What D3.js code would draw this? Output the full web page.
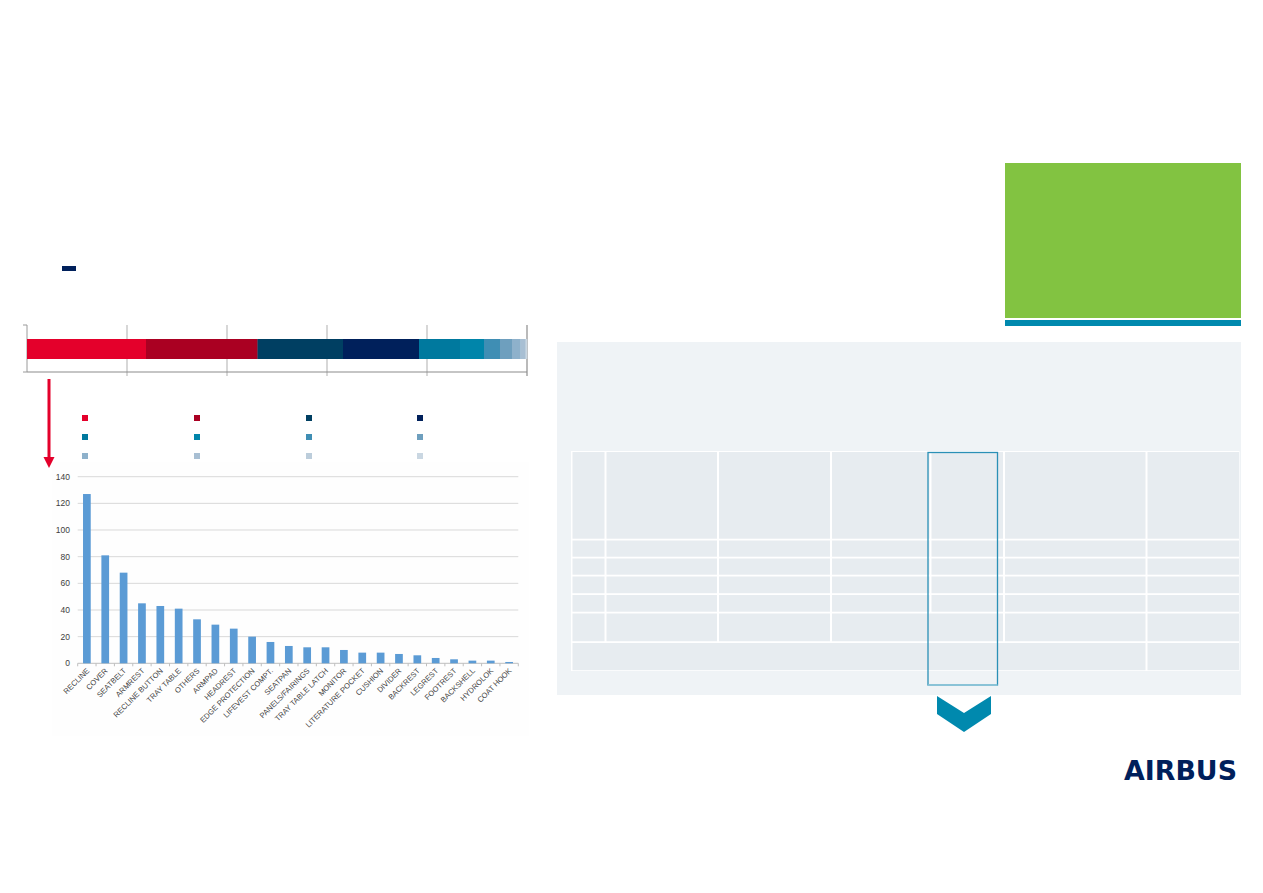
<!DOCTYPE html>
<html><head><meta charset="utf-8">
<script src="https://cdn.jsdelivr.net/npm/d3@7"></script>
<style>body{margin:0;background:#fff;overflow:hidden;} svg{display:block;}</style>
</head><body>
<script>
// ---------- data ----------
const categories = ["RECLINE","COVER","SEATBELT","ARMREST","RECLINE BUTTON","TRAY TABLE","OTHERS","ARMPAD","HEADREST","EDGE PROTECTION","LIFEVEST COMPT.","SEATPAN","PANELS/FAIRINGS","TRAY TABLE LATCH","MONITOR","LITERATURE POCKET","CUSHION","DIVIDER","BACKREST","LEGREST","FOOTREST","BACKSHELL","HYDROLOK","COAT HOOK"];
const counts = [127,81,68,45,43,41,33,29,26,20,16,13,12,12,10,8,8,7,6,4,3,2,2,1];
const countTicks = [0,20,40,60,80,100,120,140];

const shareValues = [23.8,22.3,17.1,15.2,8.2,4.8,3.2,2.4,1.7,0.9,0.2,0.2];
const shareColors = ["#E4002B","#AA0022","#003F62","#00205B","#00799E","#0085AA","#3F8EB4","#6E9FBE","#8EB1CB","#A8BFD3","#BCCDDB","#CAD7E2"];
const shareTicks = [0,20,40,60,80,100];

// table structure (row groups of column spans)
const tableCols = [0,1,2,3,4,5,6,7];
const tableRows = [0,1,2,3,4,5,6,7];
const tableSpans = [
  [[0,1],[1,2],[2,3],[3,4],[4,5],[5,6],[6,7]],
  [[0,1],[1,2],[2,3],[3,4],[4,5],[5,6],[6,7]],
  [[0,1],[1,2],[2,3],[3,4],[4,5],[5,6],[6,7]],
  [[0,1],[1,2],[2,3],[3,4],[4,5],[5,6],[6,7]],
  [[0,1],[1,2],[2,3],[3,4],[4,5],[5,6],[6,7]],
  [[0,1],[1,2],[2,3],[3,5],[5,6],[6,7]],
  [[0,6],[6,7]]
];

// ---------- layout ----------
const W = 1263, H = 893;
const svg = d3.select("body").append("svg").attr("width", W).attr("height", H);
const FONT = "'Liberation Sans', Arial, sans-serif";

// navy small mark
svg.append("rect").attr("x",62).attr("y",266).attr("width",14).attr("height",5).attr("fill","#00205B");

// ---------- stacked share bar ----------
const xs = d3.scaleLinear().domain([0,100]).range([27,527]);
const gS = svg.append("g");
gS.selectAll("line.grid").data(shareTicks.slice(1)).join("line")
  .attr("x1",d=>xs(d)).attr("x2",d=>xs(d)).attr("y1",325).attr("y2",376)
  .attr("stroke",d=>d===100?"#8C8C8C":"#BDBDBD").attr("stroke-width",1.2);
gS.append("line").attr("x1",xs(0)).attr("x2",xs(0)).attr("y1",325).attr("y2",372).attr("stroke","#9A9A9A").attr("stroke-width",1);
gS.append("line").attr("x1",xs(0)-4).attr("x2",xs(0)).attr("y1",325).attr("y2",325).attr("stroke","#9A9A9A");
gS.append("line").attr("x1",xs(0)-4).attr("x2",xs(0)).attr("y1",372).attr("y2",372).attr("stroke","#9A9A9A");
gS.append("line").attr("x1",xs(0)).attr("x2",xs(100)).attr("y1",372).attr("y2",372).attr("stroke","#8C8C8C").attr("stroke-width",1.2);
let cum = 0;
const segs = shareValues.map((v,i)=>{const s={x0:cum,x1:cum+v,c:shareColors[i]}; cum+=v; return s;});
gS.selectAll("rect.seg").data(segs).join("rect")
  .attr("x",d=>xs(d.x0)).attr("width",d=>xs(d.x1)-xs(d.x0)+0.3)
  .attr("y",339).attr("height",20).attr("fill",d=>d.c);

// legend squares
const legX = [82,194,306,417], legY = [415,434,453];
svg.append("g").selectAll("rect").data(shareColors).join("rect")
  .attr("x",(d,i)=>legX[i%4]).attr("y",(d,i)=>legY[Math.floor(i/4)])
  .attr("width",6).attr("height",6).attr("fill",d=>d);

// red arrow
svg.append("rect").attr("x",47.5).attr("y",379).attr("width",3).attr("height",79).attr("fill","#E4002B");
svg.append("path").attr("d","M43.5,457 L54.5,457 L49,468 Z").attr("fill","#E4002B");

// ---------- bar chart ----------
svg.append("rect").attr("x",52).attr("y",462).attr("width",477).attr("height",274).attr("fill","#FEFEFE");
const x = d3.scaleBand().domain(categories).range([77.7,518.3]).paddingInner(0.58).paddingOuter(0.29);
const y = d3.scaleLinear().domain([0,140]).range([663.3,476.7]);
const gB = svg.append("g");
gB.selectAll("line.g").data(countTicks.slice(1)).join("line")
  .attr("x1",77.7).attr("x2",518.3).attr("y1",d=>y(d)).attr("y2",d=>y(d))
  .attr("stroke","#D9D9D9").attr("stroke-width",1);
gB.append("line").attr("x1",77.7).attr("x2",518.3).attr("y1",y(0)).attr("y2",y(0)).attr("stroke","#BFBFBF");
const step = x.step();
gB.selectAll("line.t").data(d3.range(categories.length+1)).join("line")
  .attr("x1",d=>77.7+d*step).attr("x2",d=>77.7+d*step).attr("y1",y(0)).attr("y2",y(0)+3)
  .attr("stroke","#BFBFBF");
gB.selectAll("text.y").data(countTicks).join("text")
  .attr("x",70).attr("y",d=>y(d)+3).attr("text-anchor","end")
  .attr("font-family",FONT).attr("font-size",8.5).attr("fill","#404040").text(d=>d);
gB.selectAll("rect.bar").data(categories).join("rect")
  .attr("x",d=>x(d)).attr("width",x.bandwidth())
  .attr("y",(d,i)=>y(counts[i])).attr("height",(d,i)=>y(0)-y(counts[i]))
  .attr("fill","#5B9BD5");
gB.selectAll("text.x").data(categories).join("text")
  .attr("transform",d=>`translate(${x(d)+x.bandwidth()/2+3},${y(0)+8}) rotate(-45)`)
  .attr("text-anchor","end").attr("font-family",FONT).attr("font-size",7.6)
  .attr("fill","#404040").text(d=>d);

// ---------- green box ----------
svg.append("rect").attr("x",1005).attr("y",163).attr("width",236).attr("height",155).attr("fill","#82C341");
svg.append("rect").attr("x",1005).attr("y",320).attr("width",236).attr("height",6).attr("fill","#0089AE");

// ---------- table panel ----------
svg.append("rect").attr("x",557).attr("y",342).attr("width",684).attr("height",353).attr("fill","#EFF3F6");
const colEdges = [571,605,717.5,830.5,930,1003.5,1146,1239.5];
const rowEdges = [451,539.5,557.5,575.5,594,612.5,642,671];
const cx = d3.scaleOrdinal().domain(tableCols).range(colEdges);
const ry = d3.scaleOrdinal().domain(tableRows).range(rowEdges);
svg.append("rect").attr("x",colEdges[0]).attr("y",rowEdges[0]).attr("width",colEdges[7]-colEdges[0]).attr("height",rowEdges[7]-rowEdges[0]).attr("fill","#FFFFFF");
const cells = [];
tableSpans.forEach((row,r)=>row.forEach(([a,b])=>cells.push({r,a,b})));
svg.append("g").selectAll("rect").data(cells).join("rect")
  .attr("x",d=>cx(d.a)+1.5).attr("y",d=>ry(d.r)+1)
  .attr("width",d=>cx(d.b)-cx(d.a)-2).attr("height",d=>ry(d.r+1)-ry(d.r)-1.8)
  .attr("fill","#E7ECF0");
svg.append("rect").attr("x",928).attr("y",452.5).attr("width",69.5).attr("height",232.5)
  .attr("fill","none").attr("stroke","#2A90B6").attr("stroke-width",1.3);
svg.append("line").attr("x1",928).attr("x2",997.5).attr("y1",685).attr("y2",685).attr("stroke","#93C9DB").attr("stroke-width",1.5);
svg.append("path").attr("d","M937,696 L964,713 L991,696 L991,714 L964,732 L937,714 Z").attr("fill","#0089AE");

// ---------- logo ----------
svg.append("text").attr("x",1124).attr("y",780).attr("font-family","'DejaVu Sans', Arial, sans-serif")
  .attr("font-weight","bold").attr("font-size",26).attr("fill","#00205B")
  .attr("textLength",113).attr("lengthAdjust","spacingAndGlyphs").text("AIRBUS");
</script>
</body></html>
